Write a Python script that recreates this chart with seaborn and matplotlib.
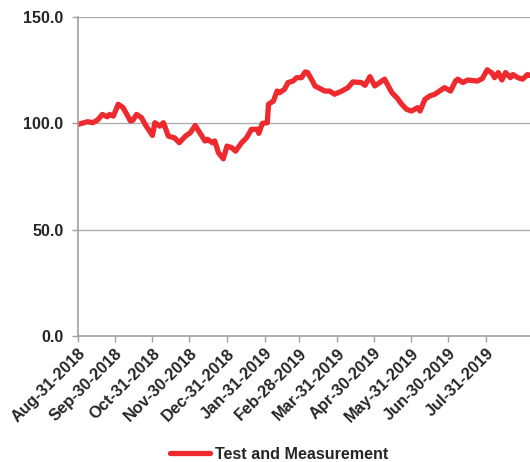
import matplotlib
matplotlib.use('Agg')
import matplotlib.pyplot as plt
import matplotlib.dates as mdates
import seaborn as sns
import pandas as pd

# ------------------ DATA ------------------
dates = [
    "2018-08-31", "2018-09-08", "2018-09-12", "2018-09-16", "2018-09-20", "2018-09-24",
    "2018-09-26", "2018-09-29", "2018-10-03", "2018-10-07", "2018-10-13", "2018-10-15",
    "2018-10-18", "2018-10-22", "2018-10-25", "2018-10-31", "2018-11-02", "2018-11-06",
    "2018-11-09", "2018-11-13", "2018-11-18", "2018-11-22", "2018-11-27", "2018-12-01",
    "2018-12-05", "2018-12-13", "2018-12-15", "2018-12-19", "2018-12-21", "2018-12-24",
    "2018-12-28", "2018-12-31", "2019-01-04", "2019-01-07", "2019-01-12", "2019-01-16",
    "2019-01-20", "2019-01-25", "2019-01-26", "2019-01-29", "2019-02-02", "2019-02-03",
    "2019-02-07", "2019-02-10", "2019-02-12", "2019-02-16", "2019-02-19", "2019-02-23",
    "2019-02-26", "2019-03-02", "2019-03-05", "2019-03-07", "2019-03-11", "2019-03-13",
    "2019-03-17", "2019-03-21", "2019-03-25", "2019-03-29", "2019-04-04", "2019-04-09",
    "2019-04-13", "2019-04-20", "2019-04-23", "2019-04-27", "2019-05-01", "2019-05-05",
    "2019-05-09", "2019-05-12", "2019-05-15", "2019-05-19", "2019-05-23", "2019-05-27",
    "2019-05-31", "2019-06-05", "2019-06-07", "2019-06-11", "2019-06-15", "2019-06-19",
    "2019-06-23", "2019-06-27", "2019-07-02", "2019-07-06", "2019-07-08", "2019-07-12",
    "2019-07-16", "2019-07-24", "2019-07-28", "2019-08-01", "2019-08-05", "2019-08-07",
    "2019-08-10", "2019-08-13", "2019-08-16", "2019-08-20", "2019-08-22", "2019-08-26",
    "2019-08-30", "2019-09-03", "2019-09-05",
]
values = [
    99.5, 100.8, 100.3, 101.5, 104.2, 103.1,
    104.2, 103.4, 109.0, 107.4, 101.1, 101.5,
    104.2, 102.7, 99.5, 94.3, 100.3, 98.7,
    100.3, 94.0, 93.2, 90.9, 94.0, 95.6,
    99.0, 91.7, 92.5, 90.9, 91.7, 86.2,
    83.3, 89.3, 88.5, 86.9, 90.9, 93.2,
    97.2, 97.2, 95.3, 100.0, 100.3, 109.0,
    110.5, 115.2, 114.4, 116.0, 119.2, 119.9,
    121.5, 121.5, 124.2, 123.9, 119.9, 117.6,
    116.4, 115.2, 115.2, 113.7, 115.2, 116.8,
    119.5, 119.2, 117.9, 122.0, 117.6, 119.2,
    120.8, 117.6, 114.4, 112.1, 109.0, 106.6,
    105.8, 107.4, 105.8, 111.3, 112.9, 113.7,
    115.2, 116.8, 115.2, 119.9, 120.8, 119.2,
    120.4, 119.9, 121.1, 125.2, 123.6, 121.5,
    123.9, 120.4, 123.9, 121.5, 123.0, 121.5,
    120.8, 123.0, 122.5,
]
series_name = "Test and Measurement"
tick_dates = [
    "2018-08-31", "2018-09-30", "2018-10-31", "2018-11-30", "2018-12-31", "2019-01-31",
    "2019-02-28", "2019-03-31", "2019-04-30", "2019-05-31", "2019-06-30", "2019-07-31",
]
y_ticks = [0, 50, 100, 150]

df = pd.DataFrame({"date": pd.to_datetime(dates), "value": values, "series": series_name})

# ------------------ PLOT ------------------
sns.set_style("white")
plt.rcParams['font.family'] = ['Liberation Sans', 'DejaVu Sans']
plt.rcParams['font.weight'] = 'bold'

fig = plt.figure(figsize=(5.3, 4.62), dpi=100)
ax = fig.add_axes([0.147, 0.273, 0.853, 0.69])

sns.lineplot(data=df, x="date", y="value", hue="series", palette=["#EE2A2E"],
             linewidth=3.8, ax=ax, legend=False)

ax.set_ylim(0, 150)
ax.set_yticks(y_ticks)
ax.yaxis.set_major_formatter(matplotlib.ticker.FormatStrFormatter("%.1f"))
ax.set_xlim(pd.Timestamp(dates[0]), pd.Timestamp(dates[-1]))
ax.set_xticks(pd.to_datetime(tick_dates))
ax.xaxis.set_major_formatter(mdates.DateFormatter("%b-%d-%Y"))
plt.setp(ax.get_xticklabels(), rotation=45, ha="right", rotation_mode="anchor")
ax.tick_params(axis="x", labelsize=11.8, length=4, width=1, color="#A0A0A0",
               direction="out", bottom=True, pad=3)
ax.tick_params(axis="y", labelsize=11.5, length=4.5, width=1, color="#A0A0A0",
               direction="out", left=True, pad=6)
for lab in ax.get_xticklabels() + ax.get_yticklabels():
    lab.set_fontweight("bold")

ax.grid(axis="y", color="#B0B0B0", linewidth=1)
ax.grid(axis="x", visible=False)
for side in ["top", "right"]:
    ax.spines[side].set_visible(False)
for side in ["left", "bottom"]:
    ax.spines[side].set_color("#A0A0A0")
    ax.spines[side].set_linewidth(1.2)
ax.set_xlabel("")
ax.set_ylabel("")

handle = matplotlib.lines.Line2D([], [], color="#EE2A2E", linewidth=3.8)
fig.legend([handle], [series_name], loc="center", bbox_to_anchor=(0.526, 0.016),
           frameon=False, prop={"weight": "bold", "size": 11.6}, handlelength=2.5,
           handletextpad=0.3, borderpad=0, borderaxespad=0)

fig.savefig("out.png", dpi=100)
